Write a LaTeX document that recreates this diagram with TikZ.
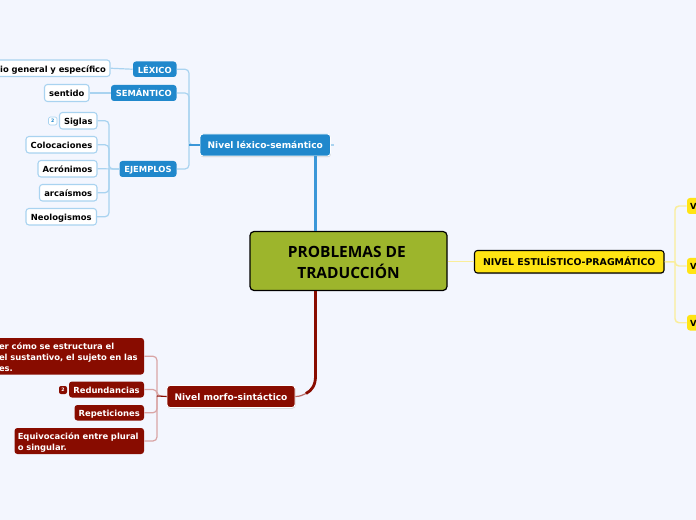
\documentclass[tikz,border=0pt]{standalone}
\usepackage{fontspec}
\setmainfont{DejaVu Sans}
\newfontfamily\titlefont{Open Sans}
\usetikzlibrary{shadows}
\definecolor{bgc}{HTML}{F3F6FE}
\definecolor{blueN}{HTML}{2088CC}
\definecolor{blueL}{HTML}{A9D3F0}
\definecolor{blueT}{HTML}{3B97D8}
\definecolor{redN}{HTML}{880C00}
\definecolor{redL}{HTML}{D9A5A5}
\definecolor{redM}{HTML}{B86A66}
\definecolor{yelN}{HTML}{FFE413}
\definecolor{yelL}{HTML}{FAEE9A}
\definecolor{oliveN}{HTML}{9DB52C}
\newcommand{\bx}[7]{%
  \pgfmathsetmacro{\bw}{(#4-#2)*0.75}%
  \pgfmathsetmacro{\bh}{(#5-#3)*0.75}%
  \pgfmathsetmacro{\bcx}{(#2+#4)/2}%
  \pgfmathsetmacro{\bcy}{(#3+#5)/2}%
  \node[#6,minimum width=\bw pt,minimum height=\bh pt] (#1) at (\bcx,\bcy) {#7};}
\tikzset{
  x=0.75pt,y=-0.75pt,
  base/.style={rounded corners=2.2pt,inner sep=0pt,font=\fontsize{6.3}{8.6}\selectfont\bfseries},
  oneline/.style={text height=6.4pt,text depth=0.4pt},
  multi/.style={base,align=left,font=\fontsize{6.3}{8.2}\selectfont\bfseries},
  bluehead/.style={base,oneline,fill=blueN,text=white},
  whitebox/.style={base,oneline,fill=white,draw=blueL,line width=0.8pt,text=black},
  redbox/.style={base,oneline,fill=redN,text=white},
  redmulti/.style={multi,fill=redN,text=white},
  yelbox/.style={base,oneline,align=left,fill=yelN,text=black},
  mainblue/.style={base,oneline,fill=blueN,text=white,draw=white,line width=0.7pt,font=\fontsize{6.8}{9}\selectfont\bfseries,
    drop shadow={shadow xshift=0.3pt,shadow yshift=-0.8pt,opacity=.35}},
  mainred/.style={mainblue,fill=redN},
  mainyel/.style={base,oneline,fill=yelN,text=black,draw=black,line width=0.8pt,font=\fontsize{7.05}{9}\selectfont\bfseries,
    drop shadow={shadow xshift=0.3pt,shadow yshift=-0.8pt,opacity=.35}},
  centerbox/.style={rounded corners=3pt,fill=oliveN,draw=black,line width=0.9pt,text=black,align=center,inner sep=0pt,
    font=\titlefont\fontsize{11.6}{16}\selectfont\bfseries},
  badgeb/.style={rounded corners=1.5pt,fill=white,draw=blueL,line width=0.5pt,inner sep=0pt,text=blueN,font=\fontsize{3.5}{4}\selectfont\bfseries},
  badger/.style={rounded corners=1.5pt,fill=redN,inner sep=0pt,text=white,font=\fontsize{3.5}{4}\selectfont\bfseries},
  linkb/.style={draw=blueL,line width=0.9pt,rounded corners=3pt},
  linkr/.style={draw=redL,line width=0.9pt,rounded corners=3pt},
  linky/.style={draw=yelL,line width=1.1pt,rounded corners=3pt},
}
\begin{document}
\begin{tikzpicture}
\fill[bgc] (0,0) rectangle (696,520);
\useasboundingbox (0,0) rectangle (696,520);
% centre
\bx{c}{250}{231.5}{447}{290.5}{centerbox}{\rule{0pt}{10.5pt}PROBLEMAS DE\hspace*{2.5pt}\\TRADUCCIÓN}
% blue branch
\bx{nl}{200}{134}{330.5}{156}{mainblue}{Nivel léxico-semántico}
\bx{lex}{133}{61.5}{176.5}{77}{bluehead}{LÉXICO}
\bx{sem}{111}{85}{176.5}{101}{bluehead}{SEMÁNTICO}
\bx{eje}{119.5}{161}{176.5}{177}{bluehead}{EJEMPLOS}
\bx{dom}{-40}{60}{110}{76.5}{whitebox,align=right,text width=142*0.75pt}{io general y específico}
\bx{sen}{44.5}{84.5}{89}{101.5}{whitebox}{sentido}
\bx{sig}{59.5}{112.5}{97}{129}{whitebox}{Siglas}
\bx{col}{26}{136.5}{97}{153}{whitebox}{Colocaciones}
\bx{acr}{38}{160.5}{97}{177}{whitebox}{Acrónimos}
\bx{arc}{39.5}{184.5}{97}{201}{whitebox}{arcaísmos}
\bx{neo}{26}{208.5}{96.5}{225}{whitebox}{Neologismos}
\bx{bs}{48.5}{117}{57}{125}{badgeb}{2}
% red branch
\bx{nm}{167}{385.5}{295}{407.5}{mainred}{Nivel morfo-sintáctico}
\bx{est}{-6}{338}{144}{374.5}{redmulti,text width=140*0.75pt}{\rule{0pt}{7pt}\mbox{er cómo se estructura el}\\\mbox{el sustantivo, el sujeto en las}\\\mbox{es.}}
\bx{red}{69}{381.5}{144}{397.5}{redbox}{Redundancias}
\bx{rep}{74.5}{405}{144}{420.5}{redbox}{Repeticiones}
\bx{equ}{14.5}{428}{144}{454}{redmulti,text width=123*0.75pt}{\rule{0pt}{8pt}\mbox{Equivocación entre plural}\\\mbox{o singular.}}
\bx{br}{59}{386}{67}{394}{badger}{2}
% yellow branch
\bx{ne}{474.5}{250.5}{664}{273}{mainyel}{NIVEL ESTILÍSTICO-PRAGMÁTICO}
\bx{v1}{687}{198}{730}{214}{yelbox,text width=37*0.75pt}{V}
\bx{v2}{687}{258}{730}{274}{yelbox,text width=37*0.75pt}{V}
\bx{v3}{687}{315}{730}{330.5}{yelbox,text width=37*0.75pt}{V}
% spine positions
\coordinate (sa) at (189,145);
\coordinate (sb) at (109,169);
\coordinate (sc) at (157,396);
\coordinate (sd) at (675,262);
\coordinate (tb) at (315.5,145);
\coordinate (tr1) at (315.5,376);
\coordinate (tr2) at (306,393.5);
% blue links
\draw[linkb] (lex.east) -| (sa) -- (nl.west);
\draw[linkb] (sem.east) -| (sa);
\draw[linkb] (eje.east) -| (sa);
\draw[linkb] (dom.east) -- (lex.west);
\draw[linkb] (sen.east) -- (sem.west);
\draw[linkb] (sig.east) -| (sb) -- (eje.west);
\draw[linkb] (col.east) -| (sb);
\draw[linkb] (acr.east) -- (eje.west);
\draw[linkb] (arc.east) -| (sb);
\draw[linkb] (neo.east) -| (sb);
\draw[blueT,line width=0.8pt] (sa) -- (nl.west);
\draw[blueL,line width=0.9pt] (nl.east) -- ++(3,0);
\draw[blueT,line width=2.2pt] (nl.south -| tb) -- (c.north -| tb);
% red links
\draw[linkr] (est.east) -| (sc) -- (nm.west);
\draw[linkr] (red.east) -| (sc);
\draw[linkr] (rep.east) -| (sc);
\draw[linkr] (equ.east) -| (sc);
\draw[redN,line width=0.8pt] (sc) -- (nm.west);
\draw[redM,line width=0.9pt] (tr2) .. controls (303,395) and (300,396.5) .. (nm.east);
\draw[redN,line width=2.1pt] (c.south -| tb) -- (tr1) .. controls (315.5,385) and (312,390.5) .. (tr2);
% yellow links
\draw[linky] (c.east |- ne.west) -- (ne.west);
\draw[linky] (ne.east) -- (sd);
\draw[linky] (v1.west) -| (sd);
\draw[linky] (v2.west) -| (sd);
\draw[linky] (v3.west) -| (sd);
\end{tikzpicture}
\end{document}
